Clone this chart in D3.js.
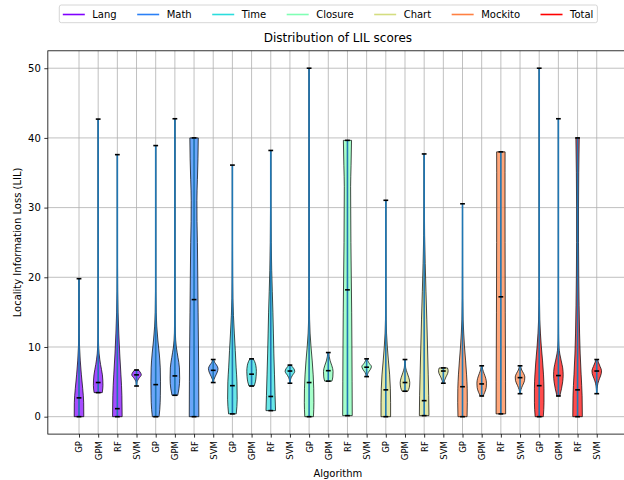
<!DOCTYPE html>
<html>
<head>
<meta charset="utf-8">
<script src="https://cdn.jsdelivr.net/npm/d3@7"></script>
<style>
  html, body { margin: 0; padding: 0; background: #fff; }
  svg { display: block; font-family: "DejaVu Sans", sans-serif; }
</style>
</head>
<body>
<svg id="chart" width="624" height="480"></svg>
<script>
// Projects and the four algorithms evaluated on each of them
const projects = ["Lang", "Math", "Time", "Closure", "Chart", "Mockito", "Total"];
const algorithms = ["GP", "GPM", "RF", "SVM"];
const yTicks = [0, 10, 20, 30, 40, 50];

// Per-violin summary (project-major order, algorithms inner)
const lilMin = [0, 3.45, 0, 4.4,  0, 3.07, 0, 4.9,  0.4, 4.4, 0.87, 4.8,
                0, 5.1, 0.15, 5.75,  0, 3.65, 0.15, 4.8,  0, 2.97, 0.4, 3.3,
                0, 2.97, 0, 3.3];
const lilMax = [19.8, 42.7, 37.6, 6.7,  38.9, 42.75, 40.0, 8.2,  36.1, 8.3, 38.2, 7.4,
                50.0, 9.2, 39.65, 8.3,  31.05, 8.2, 37.7, 7.0,  30.55, 7.3, 38.0, 7.3,
                50.0, 42.75, 40.0, 8.2];
const lilMedian = [2.7, 4.9, 1.15, 6.0,  4.6, 5.85, 16.8, 6.65,  4.45, 6.1, 2.9, 6.55,
                   4.9, 6.6, 18.2, 7.1,  3.85, 4.9, 2.3, 6.55,  4.3, 4.7, 17.2, 5.6,
                   4.45, 5.9, 3.85, 6.55];

// Density outline of each violin: [LIL value, relative half-width]
const lilDensity = [
  [[0,1],[2,0.98],[4,0.78],[6,0.5],[8,0.27],[10,0.12],[12,0.05],[15,0.02],[19.8,0.005]],
  [[3.45,0.85],[4.5,1],[6,0.88],[7.5,0.5],[9,0.2],[11,0.06],[15,0.02],[25,0.008],[42.7,0.004]],
  [[0,1],[3,0.95],[6,0.75],[9,0.5],[12,0.3],[15,0.15],[18,0.07],[22,0.03],[30,0.012],[37.6,0.005]],
  [[4.4,0.04],[5.0,0.12],[5.5,0.5],[6.0,1],[6.4,0.75],[6.7,0.4]],
  [[0,0.7],[1,0.85],[3,0.97],[5,1],[7,0.95],[9,0.75],[11,0.45],[13,0.22],[15,0.1],[18,0.04],[25,0.015],[38.9,0.005]],
  [[3.07,0.6],[4,0.85],[5.5,1],[7,0.95],[8.5,0.65],[10,0.3],[12,0.1],[15,0.03],[20,0.01],[42.75,0.004]],
  [[0,1],[5,0.97],[10,0.92],[15,0.85],[20,0.78],[25,0.7],[28,0.62],[31,0.6],[34,0.7],[37,0.82],[40,0.88]],
  [[4.9,0.05],[5.3,0.15],[5.8,0.45],[6.4,0.85],[6.9,1],[7.4,0.7],[7.8,0.3],[8.2,0.1]],
  [[0.4,0.8],[2.5,1],[5,0.95],[7,0.78],[9.5,0.6],[12,0.4],[14.5,0.22],[17,0.1],[20,0.05],[25,0.02],[36.1,0.005]],
  [[4.4,0.55],[5,0.8],[5.8,0.95],[6.5,1],[7.3,0.9],[7.9,0.65],[8.3,0.35]],
  [[0.87,1],[3,0.9],[6,0.78],[9,0.65],[12,0.55],[15,0.45],[18,0.32],[21,0.2],[25,0.1],[30,0.05],[38.2,0.02]],
  [[4.8,0.05],[5.4,0.15],[5.9,0.5],[6.5,1],[6.9,0.8],[7.2,0.45],[7.4,0.25]],
  [[0,0.9],[2,1],[4,0.97],[6,0.85],[8,0.65],[10,0.4],[12,0.2],[14,0.1],[17,0.04],[25,0.01],[50,0.003]],
  [[5.1,0.75],[5.7,0.95],[6.5,1],[7.3,0.75],[8,0.4],[8.6,0.2],[9.2,0.1]],
  [[0.15,1],[5,0.97],[10,0.93],[15,0.88],[20,0.8],[25,0.72],[30,0.68],[33,0.66],[36,0.75],[39.65,0.85]],
  [[5.75,0.1],[6.3,0.3],[6.8,0.8],[7.2,1],[7.6,0.6],[8,0.25],[8.3,0.1]],
  [[0,1],[2,1],[4,0.95],[6,0.8],[8,0.55],[10,0.32],[12,0.15],[14,0.07],[18,0.03],[25,0.01],[31.05,0.005]],
  [[3.65,0.6],[4.2,0.9],[4.9,1],[5.6,0.8],[6.3,0.45],[7,0.15],[7.6,0.05],[8.2,0.02]],
  [[0.15,1],[3,0.95],[6,0.85],[10,0.7],[14,0.55],[18,0.38],[22,0.22],[26,0.1],[30,0.05],[37.7,0.02]],
  [[4.8,0.1],[5.2,0.25],[5.7,0.55],[6.2,0.9],[6.6,1],[7.0,0.85]],
  [[0,0.95],[2,1],[4,0.98],[6,0.85],[8,0.65],[10,0.42],[12,0.25],[14,0.12],[17,0.05],[22,0.02],[30.55,0.005]],
  [[2.97,0.3],[3.5,0.65],[4.2,0.95],[4.8,1],[5.5,0.85],[6.2,0.5],[6.8,0.2],[7.3,0.08]],
  [[0.4,1],[5,0.98],[10,0.95],[15,0.92],[20,0.9],[25,0.88],[30,0.87],[35,0.87],[38,0.88]],
  [[3.3,0.05],[3.9,0.2],[4.5,0.55],[5.2,0.95],[5.7,1],[6.2,0.75],[6.7,0.35],[7.3,0.1]],
  [[0,0.85],[2,1],[4,1],[6,0.9],[8,0.7],[10,0.45],[12,0.25],[14,0.12],[17,0.05],[22,0.02],[50,0.003]],
  [[2.97,0.3],[4,0.65],[5,0.9],[6,1],[7,0.9],[8,0.6],[9,0.3],[10,0.12],[12,0.04],[15,0.015],[42.75,0.003]],
  [[0,1],[3,0.95],[6,0.75],[9,0.55],[12,0.42],[16,0.32],[20,0.25],[25,0.2],[30,0.2],[35,0.25],[40,0.35]],
  [[3.3,0.03],[4,0.08],[4.8,0.25],[5.5,0.6],[6.2,0.95],[6.6,1],[7.2,0.7],[7.8,0.35],[8.2,0.15]]
];

// Rainbow colours, one per project
const projectColors = ["#8000ff", "#2b80f6", "#2bdddd", "#80ffb4", "#d4dd80", "#ff8042", "#ff0000"];

const svg = d3.select("#chart");
const plot = { left: 47.84, right: 627.9, top: 50.8, bottom: 434.1 };
const violinWidth = 0.5;

const x = d3.scaleLinear().domain([-0.625, 29.625]).range([plot.left, plot.right]);
const y = d3.scaleLinear().domain([-2.5, 52.5]).range([plot.bottom, plot.top]);

const positions = d3.range(1, projects.length * algorithms.length + 1);

// grid
const grid = svg.append("g").attr("stroke", "#b0b0b0").attr("stroke-width", 0.8);
grid.selectAll("line.gx").data(positions).join("line")
  .attr("x1", d => x(d)).attr("x2", d => x(d))
  .attr("y1", plot.top).attr("y2", plot.bottom);
grid.selectAll("line.gy").data(yTicks).join("line")
  .attr("x1", plot.left).attr("x2", plot.right)
  .attr("y1", d => y(d)).attr("y2", d => y(d));

// violin bodies
const pxPerUnit = x(1) - x(0);
const halfW = violinWidth / 2 * pxPerUnit;
const bodies = svg.append("g");
positions.forEach((pos, i) => {
  const cx = x(pos);
  const col = projectColors[Math.floor(i / algorithms.length)];
  const area = d3.area()
    .y(d => y(d[0]))
    .x0(d => cx - d[1] * halfW)
    .x1(d => cx + d[1] * halfW)
    .curve(d3.curveMonotoneY);
  bodies.append("path")
    .attr("d", area(lilDensity[i]))
    .attr("fill", col)
    .attr("fill-opacity", 0.7)
    .attr("stroke", "#000")
    .attr("stroke-opacity", 0.7)
    .attr("stroke-width", 1);
});

// central bars, extrema and medians
const capHalf = 0.125 * pxPerUnit;
const stats = svg.append("g");
positions.forEach((pos, i) => {
  const cx = x(pos);
  stats.append("line")
    .attr("x1", cx).attr("x2", cx)
    .attr("y1", y(lilMin[i])).attr("y2", y(lilMax[i]))
    .attr("stroke", "#1f77b4").attr("stroke-width", 1.6);
  [lilMin[i], lilMax[i], lilMedian[i]].forEach(v => {
    stats.append("line")
      .attr("x1", cx - capHalf).attr("x2", cx + capHalf)
      .attr("y1", y(v)).attr("y2", y(v))
      .attr("stroke", "#000").attr("stroke-width", 1.6);
  });
});

// spines
svg.append("rect")
  .attr("x", plot.left).attr("y", plot.top)
  .attr("width", plot.right - plot.left).attr("height", plot.bottom - plot.top)
  .attr("fill", "none").attr("stroke", "#000").attr("stroke-width", 0.8);

// axes
const yAxis = svg.append("g")
  .attr("transform", `translate(${plot.left},0)`)
  .call(d3.axisLeft(y).tickValues(yTicks).tickSize(3.5).tickPadding(3.5));
yAxis.select(".domain").remove();
yAxis.selectAll("line").attr("stroke-width", 0.8);
yAxis.selectAll("text").attr("font-size", 10).attr("fill", "#000")
  .attr("font-family", "DejaVu Sans");

const xAxis = svg.append("g")
  .attr("transform", `translate(0,${plot.bottom})`)
  .call(d3.axisBottom(x).tickValues(positions).tickSize(3.5)
    .tickFormat(d => algorithms[(d - 1) % algorithms.length]));
xAxis.select(".domain").remove();
xAxis.selectAll("line").attr("stroke-width", 0.8);
xAxis.selectAll("text")
  .attr("font-size", 8.5).attr("fill", "#000").attr("font-family", "DejaVu Sans")
  .attr("transform", "rotate(-90)")
  .attr("x", -7).attr("y", 0).attr("dy", "0.35em")
  .attr("text-anchor", "end");

// labels
svg.append("text")
  .attr("x", (plot.left + plot.right) / 2).attr("y", 42)
  .attr("text-anchor", "middle").attr("font-size", 12)
  .text("Distribution of LIL scores");
svg.append("text")
  .attr("x", (plot.left + plot.right) / 2).attr("y", 477)
  .attr("text-anchor", "middle").attr("font-size", 10)
  .text("Algorithm");
svg.append("text")
  .attr("transform", `translate(21,${(plot.top + plot.bottom) / 2}) rotate(-90)`)
  .attr("text-anchor", "middle").attr("font-size", 10)
  .text("Locality Information Loss (LIL)");

// legend
const legend = svg.append("g");
const legendBox = legend.append("rect")
  .attr("fill", "#fff").attr("fill-opacity", 0.8)
  .attr("stroke", "#cccccc").attr("stroke-width", 0.8).attr("rx", 2);
let lx = 62.8;
const ly = 14.5;
projects.forEach((p, i) => {
  legend.append("line")
    .attr("x1", lx).attr("x2", lx + 22)
    .attr("y1", ly).attr("y2", ly)
    .attr("stroke", projectColors[i]).attr("stroke-width", 1.6);
  const t = legend.append("text")
    .attr("x", lx + 29.5).attr("y", ly).attr("dy", "0.35em")
    .attr("font-size", 10).text(p);
  lx += 29.5 + t.node().getComputedTextLength() + 20.5;
});
legendBox.attr("x", 59.3).attr("y", 5)
  .attr("width", lx - 20.5 + 4 - 59.3).attr("height", 17.7);
</script>
</body>
</html>
